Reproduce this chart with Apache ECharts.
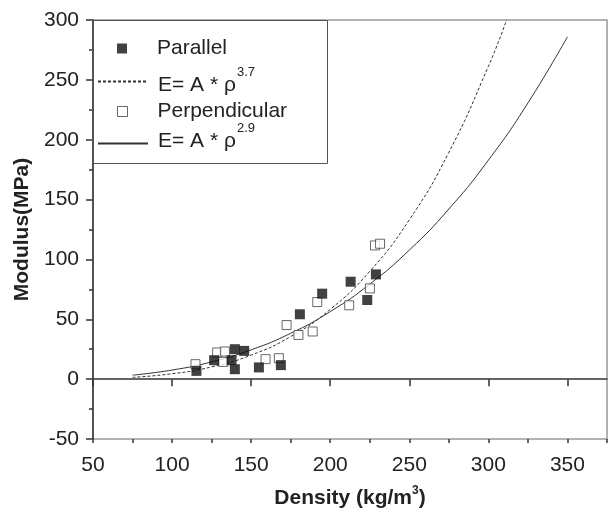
<!DOCTYPE html>
<html>
<head>
<meta charset="utf-8">
<script src="https://cdn.jsdelivr.net/npm/echarts@6/dist/echarts.min.js"></script>
<style>html,body{margin:0;padding:0;background:#fff}#c{width:611px;height:516px}</style>
</head>
<body>
<div id="c"></div>
<script>
// Parallel (filled squares): density, modulus
const parallelX = [115.4, 126.6, 137.6, 139.7, 145.6, 139.7, 154.9, 168.8, 180.8, 194.9, 212.9, 223.4, 228.9];
const parallelY = [6.9, 15.8, 15.8, 25.0, 23.6, 8.3, 9.8, 11.7, 54.2, 71.4, 81.4, 66.1, 87.5];
// Perpendicular (open squares)
const perpX = [114.8, 128.5, 133.4, 132.3, 159.1, 167.5, 172.4, 179.9, 188.9, 191.8, 212.0, 225.1, 228.3, 231.5];
const perpY = [12.5, 22.3, 23.1, 14.4, 16.7, 17.5, 45.2, 36.9, 39.8, 64.4, 61.7, 75.8, 111.7, 113.1];
// Fit curves
const fit37X = [75, 100, 125, 150, 175, 200, 225, 250, 275, 300, 311.5];
const fit37Y = [1.5, 4.5, 10.2, 20.1, 35.6, 58.3, 90.1, 133.1, 189.4, 261.3, 300];
const fit29X = [75, 100, 125, 150, 175, 200, 225, 250, 275, 300, 325, 350];
const fit29Y = [3.3, 7.6, 14.4, 24.5, 38.3, 56.4, 79.4, 107.8, 142.1, 182.9, 230.7, 286];
// Axis ticks
const xMin = 50, xMax = 375, xStep = 50;
const yMin = -50, yMax = 300, yStep = 50;

const FONT = '"Liberation Sans", Arial, sans-serif';
const zip = (a, b) => a.map((v, i) => [v, b[i]]);

const chart = echarts.init(document.getElementById('c'), null, {renderer: 'canvas'});

function symLegend(name, top, itemStyle) {
  return {
    show: true, orient: 'vertical', left: 117, top: top, padding: 0,
    itemWidth: 10, itemHeight: 10, selectedMode: false,
    data: [itemStyle ? {name: name, itemStyle: itemStyle} : name],
    formatter: function (n) { return '{p|' + n + '}'; },
    textStyle: {
      fontFamily: FONT, fontSize: 21, color: '#222',
      rich: {p: {fontFamily: FONT, fontSize: 21, color: '#222', lineHeight: 24, padding: [0, 0, 0, 25]}}
    }
  };
}
function lineLegend(name, top, sup, nPad, sPad) {
  return {
    show: true, orient: 'vertical', left: 97, top: top, padding: 0,
    itemWidth: 50, itemHeight: 10, selectedMode: false,
    data: [{name: name, itemStyle: {opacity: 0, borderWidth: 0}}],
    formatter: function () { return '{n|E= A * ρ}{s|' + sup + '}'; },
    textStyle: {
      fontFamily: FONT, fontSize: 21, color: '#222',
      rich: {
        n: {fontFamily: FONT, fontSize: 21, color: '#222', lineHeight: 24, padding: nPad},
        s: {fontFamily: FONT, fontSize: 13, color: '#222', lineHeight: 14, padding: sPad}
      }
    }
  };
}

const option = {
  backgroundColor: '#fff',
  animation: false,
  grid: {left: 93, right: 4, top: 20, bottom: 76, show: true, borderColor: '#999', borderWidth: 1.5, backgroundColor: 'transparent'},
  legend: [
    symLegend('Parallel', 38, null),
    lineLegend('E= A * ρ^3.7', 66, '3.7', [8, 0, 0, 5], [0, 0, 18, 1]),
    symLegend('Perpendicular', 101, {color: '#fff', borderColor: '#444', borderWidth: 1}),
    lineLegend('E= A * ρ^2.9', 122, '2.9', [8, 0, 12, 5], [0, 0, 30, 1])
  ],
  graphic: [{
    type: 'rect', left: 92, top: 20, z: 100,
    shape: {width: 235, height: 143},
    style: {fill: 'transparent', stroke: '#555', lineWidth: 1}
  }],
  xAxis: [{
    type: 'value', min: xMin, max: xMax, interval: xStep, position: 'bottom',
    axisLine: {show: true, lineStyle: {color: '#333', width: 1.5}},
    axisTick: {show: true, length: 7, lineStyle: {color: '#333', width: 1.5}},
    minorTick: {show: false},
    splitLine: {show: false},
    axisLabel: {margin: 16, fontFamily: FONT, fontSize: 21, color: '#222', showMaxLabel: false},
    name: '{b|Density (kg/m}{s|3}{b|)}', nameLocation: 'middle', nameGap: 47,
    nameTextStyle: {
      fontFamily: FONT, fontSize: 21, fontWeight: 'bold', color: '#222',
      rich: {
        b: {fontFamily: FONT, fontSize: 21, fontWeight: 'bold', color: '#222', lineHeight: 24},
        s: {fontFamily: FONT, fontSize: 12, fontWeight: 'bold', color: '#222', lineHeight: 12, padding: [0, 0, 14, 0]}
      }
    }
  }, {
    type: 'value', min: xMin, max: xMax, interval: xStep / 2, position: 'bottom',
    axisLine: {show: false},
    axisTick: {show: true, length: 4, lineStyle: {color: '#333', width: 1.5}},
    axisLabel: {show: false},
    splitLine: {show: false}
  }],
  yAxis: {
    type: 'value', min: yMin, max: yMax, interval: yStep,
    axisLine: {show: true, lineStyle: {color: '#333', width: 1.5}},
    axisTick: {show: true, length: 7, lineStyle: {color: '#333', width: 1.5}},
    minorTick: {show: true, splitNumber: 2, length: 4, lineStyle: {color: '#333', width: 1.5}},
    splitLine: {show: false},
    axisLabel: {margin: 14, fontFamily: FONT, fontSize: 21, color: '#222'},
    name: 'Modulus(MPa)', nameLocation: 'middle', nameRotate: 90, nameGap: 60,
    nameTextStyle: {fontFamily: FONT, fontSize: 21, fontWeight: 'bold', color: '#222'}
  },
  series: [{
    name: 'Parallel', type: 'scatter', symbol: 'rect', symbolSize: 10,
    itemStyle: {color: '#111'}, z: 5,
    data: zip(parallelX, parallelY)
  }, {
    name: 'E= A * ρ^3.7', type: 'line', smooth: true, symbol: 'none', showSymbol: false,
    lineStyle: {color: '#333', width: 1, type: [3, 2]}, itemStyle: {color: '#333'},
    data: zip(fit37X, fit37Y)
  }, {
    name: 'Perpendicular', type: 'scatter', symbol: 'rect', symbolSize: 9,
    itemStyle: {color: '#fff', borderColor: '#444', borderWidth: 1}, z: 4,
    data: zip(perpX, perpY)
  }, {
    name: 'E= A * ρ^2.9', type: 'line', smooth: true, symbol: 'none', showSymbol: false,
    lineStyle: {color: '#333', width: 1}, itemStyle: {color: '#333'},
    data: zip(fit29X, fit29Y)
  }]
};
chart.setOption(option);
</script>
</body>
</html>
